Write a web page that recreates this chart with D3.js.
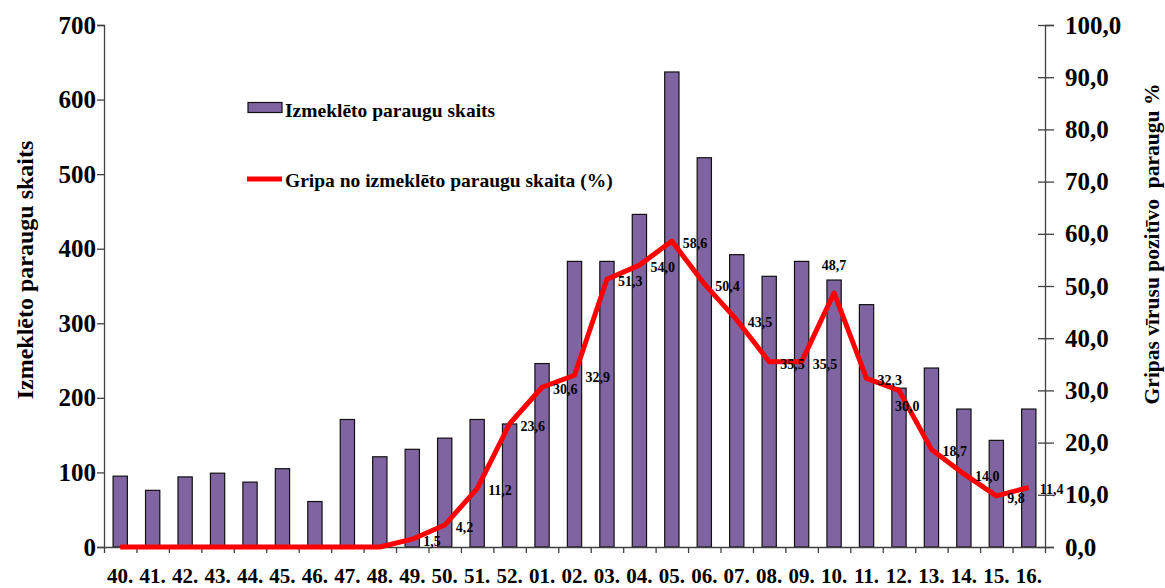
<!DOCTYPE html>
<html>
<head>
<meta charset="utf-8">
<script src="https://cdn.jsdelivr.net/npm/d3@7"></script>
<style>
  html, body { margin: 0; padding: 0; background: #fff; }
  svg text { font-family: "Liberation Serif", "Times New Roman", serif; font-weight: bold; fill: #000; }
</style>
</head>
<body>
<svg id="chart" width="1165" height="588"></svg>
<script>
// ---- data ----
const weeks = ["40.", "41.", "42.", "43.", "44.", "45.", "46.", "47.", "48.", "49.", "50.", "51.", "52.",
               "01.", "02.", "03.", "04.", "05.", "06.", "07.", "08.", "09.", "10.", "11.", "12.", "13.", "14.", "15.", "16."];
const samples = [95, 76, 94, 99, 87, 105, 61, 171, 121, 131, 146, 171, 165,
                 246, 383, 383, 446, 637, 522, 392, 363, 383, 358, 325, 213, 240, 185, 143, 185];
const fluPct = [0, 0, 0, 0, 0, 0, 0, 0, 0, 1.5, 4.2, 11.2, 23.6,
                30.6, 32.9, 51.3, 54.0, 58.6, 50.4, 43.5, 35.5, 35.5, 48.7, 32.3, 30.0, 18.7, 14.0, 9.8, 11.4];
const leftTicks = [0, 100, 200, 300, 400, 500, 600, 700];
const rightTicks = [0, 10, 20, 30, 40, 50, 60, 70, 80, 90, 100];
const seriesNames = ["Izmeklēto paraugu skaits", "Gripa no izmeklēto paraugu skaita (%)"];
const leftTitle = "Izmeklēto paraugu skaits";
const rightTitle = "Gripas vīrusu pozitīvo  paraugu %";

// label placement style (not data)
const labelPlace = weeks.map((w, i) => i === 22 ? "above" : (i === 24 ? "below" : "right"));

const svg = d3.select("#chart");
const L = 104, R = 1045, T = 25, B = 547;
const barColor = "#8064A2";
const axisColor = "#404040";

const x = d3.scaleBand().domain(weeks).range([L, R]).paddingInner(0.56).paddingOuter(0.28);
const xi = d3.scaleLinear().domain([0, weeks.length]).range([L, R]);
const yL = d3.scaleLinear().domain([0, 700]).range([B, T]);
const yR = d3.scaleLinear().domain([0, 100]).range([B, T]);
const cx = w => x(w) + x.bandwidth() / 2;

// bars
svg.append("g").selectAll("rect").data(weeks).join("rect")
  .attr("x", w => x(w))
  .attr("y", (w, i) => yL(samples[i]))
  .attr("width", x.bandwidth())
  .attr("height", (w, i) => B - yL(samples[i]))
  .attr("fill", barColor)
  .attr("stroke", "#111")
  .attr("stroke-width", 1.2);

// left axis
const gL = svg.append("g").attr("transform", `translate(${L},0)`)
  .call(d3.axisLeft(yL).tickValues(leftTicks).tickSize(7).tickPadding(1).tickFormat(d3.format("d")));
gL.selectAll("text").style("font-size", "25px");

// right axis (outer ticks + labels)
const gR = svg.append("g").attr("transform", `translate(${R},0)`)
  .call(d3.axisRight(yR).tickValues(rightTicks).tickSize(9).tickPadding(11).tickFormat(d => d3.format(".1f")(d).replace(".", ",")));
gR.selectAll("text").style("font-size", "25px");
// inner half of crossing ticks
svg.append("g").attr("transform", `translate(${R},0)`)
  .call(d3.axisLeft(yR).tickValues(rightTicks).tickSize(7).tickFormat(""))
  .select(".domain").remove();

// bottom axis: boundary ticks
svg.append("g").attr("transform", `translate(0,${B})`)
  .call(d3.axisBottom(xi).tickValues(d3.range(weeks.length + 1)).tickSize(6).tickFormat("").tickSizeOuter(0));
// bottom labels
const gBL = svg.append("g").attr("transform", `translate(0,${B})`)
  .call(d3.axisBottom(x).tickSize(0));
gBL.select(".domain").remove();
gBL.selectAll("text").attr("y", 36).attr("dy", 0).style("font-size", "21px");

svg.selectAll(".domain, .tick line").attr("stroke", axisColor).attr("stroke-width", 1.3);

// line
const line = d3.line().x((d, i) => cx(weeks[i])).y(d => yR(d));
svg.append("path").datum(fluPct)
  .attr("d", line)
  .attr("fill", "none")
  .attr("stroke", "#FF0000")
  .attr("stroke-width", 5)
  .attr("stroke-linejoin", "round");

// data labels
svg.append("g").selectAll("text").data(weeks.map((w, i) => ({w, i, v: fluPct[i]})).filter(d => d.v > 0))
  .join("text")
  .attr("x", d => labelPlace[d.i] === "above" ? cx(d.w) : (labelPlace[d.i] === "below" ? cx(d.w) - 4 : cx(d.w) + 11))
  .attr("y", d => labelPlace[d.i] === "above" ? yR(d.v) - 28 : (labelPlace[d.i] === "below" ? yR(d.v) + 16 : yR(d.v) + 2))
  .attr("dy", "0.35em")
  .attr("text-anchor", d => labelPlace[d.i] === "above" ? "middle" : "start")
  .style("font-size", "14px")
  .text(d => d3.format(".1f")(d.v).replace(".", ","));

// legend
const lg = svg.append("g");
lg.append("rect").attr("x", 248).attr("y", 102.5).attr("width", 34).attr("height", 10)
  .attr("fill", barColor).attr("stroke", "#111").attr("stroke-width", 1.2);
lg.append("text").attr("x", 285).attr("y", 116.5).style("font-size", "19.5px").text(seriesNames[0]);
lg.append("line").attr("x1", 247).attr("x2", 282).attr("y1", 179).attr("y2", 179)
  .attr("stroke", "#FF0000").attr("stroke-width", 5);
lg.append("text").attr("x", 285).attr("y", 186.5).style("font-size", "19.5px").text(seriesNames[1]);

// axis titles
svg.append("text").attr("transform", "translate(33,270) rotate(-90)")
  .attr("text-anchor", "middle").style("font-size", "24px").text(leftTitle);
svg.append("text").attr("transform", "translate(1159,244) rotate(-90)")
  .attr("text-anchor", "middle").style("font-size", "21.5px").style("white-space", "pre").text(rightTitle);
</script>
</body>
</html>
